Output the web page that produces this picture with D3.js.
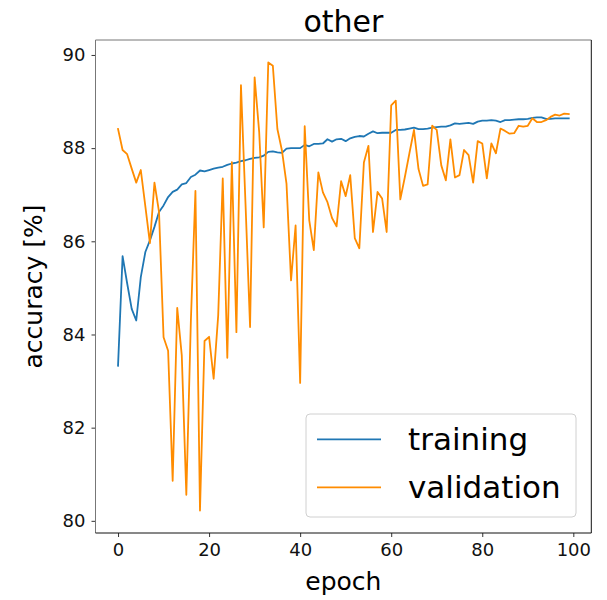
<!DOCTYPE html>
<html>
<head>
<meta charset="utf-8">
<script src="https://cdn.jsdelivr.net/npm/d3@7/dist/d3.min.js"></script>
<style>
  html, body { margin: 0; padding: 0; background: #fff; }
  svg { display: block; font-family: "DejaVu Sans", sans-serif; }
</style>
</head>
<body>
<svg id="chart" width="607" height="600"></svg>
<script>
// Per-epoch accuracy (%) for the "other" class
const training = [
  83.33, 85.68, 85.10, 84.55, 84.30, 85.23, 85.77, 86.02, 86.31, 86.63,
  86.77, 86.95, 87.06, 87.11, 87.22, 87.25, 87.38, 87.43, 87.52, 87.50,
  87.53, 87.56, 87.58, 87.60, 87.64, 87.67, 87.69, 87.72, 87.74, 87.77,
  87.79, 87.80, 87.84, 87.92, 87.93, 87.91, 87.90, 87.99, 88.00, 88.00,
  88.00, 88.07, 88.04, 88.09, 88.09, 88.10, 88.19, 88.14, 88.19, 88.20,
  88.15, 88.21, 88.24, 88.26, 88.25, 88.31, 88.36, 88.32, 88.33, 88.33,
  88.33, 88.39, 88.39, 88.40, 88.42, 88.44, 88.41, 88.41, 88.42, 88.44,
  88.45, 88.46, 88.46, 88.49, 88.53, 88.52, 88.53, 88.54, 88.52, 88.57,
  88.59, 88.59, 88.60, 88.59, 88.56, 88.60, 88.60, 88.61, 88.62, 88.62,
  88.63, 88.65, 88.66, 88.66, 88.63, 88.63, 88.64, 88.64, 88.64, 88.64
];
const validation = [
  88.41, 87.96, 87.87, 87.56, 87.26, 87.53, 86.75, 85.96, 87.26, 86.63,
  83.94, 83.65, 80.86, 84.57, 83.55, 80.56, 84.30, 87.08, 80.22, 83.86,
  83.95, 83.05, 84.41, 87.35, 83.50, 87.70, 84.05, 89.35, 86.80, 84.16,
  89.52, 88.35, 86.30, 89.84, 89.77, 88.41, 87.95, 87.24, 85.16, 86.34,
  82.96, 88.47, 86.45, 85.81, 87.48, 87.05, 86.84, 86.50, 86.32, 87.29,
  86.97, 87.42, 86.07, 85.85, 87.69, 88.05, 86.20, 87.06, 86.92, 86.20,
  88.92, 89.02, 86.90, 87.38, 87.89, 88.39, 87.55, 87.19, 87.22, 88.48,
  88.39, 87.63, 87.31, 88.19, 87.37, 87.42, 87.96, 87.85, 87.26, 88.15,
  88.10, 87.35, 88.10, 87.89, 88.42, 88.37, 88.31, 88.32, 88.48, 88.46,
  88.48, 88.64, 88.56, 88.56, 88.60, 88.67, 88.72, 88.70, 88.74, 88.73
];
const xTicks = [0, 20, 40, 60, 80, 100];
const yTicks = [80, 82, 84, 86, 88, 90];
const seriesNames = ["training", "validation"];
const seriesColors = ["#1f77b4", "#ff8c00"];
const titleText = "other";
const xLabel = "epoch";
const yLabel = "accuracy [%]";

const svg = d3.select("#chart");
const W = 607, H = 600;
const margin = { top: 40, right: 15.7, bottom: 67, left: 95.5 };
const iw = W - margin.left - margin.right;
const ih = H - margin.top - margin.bottom;

// 5% padding around the data on both axes
function padded(lo, hi) {
  const r = hi - lo;
  return [lo - 0.05 * r, hi + 0.05 * r];
}
const n = training.length;
const allY = training.concat(validation);
const x = d3.scaleLinear().domain(padded(0, n - 1)).range([0, iw]);
const y = d3.scaleLinear().domain(padded(d3.min(allY), d3.max(allY))).range([ih, 0]);

const g = svg.append("g").attr("transform", `translate(${margin.left},${margin.top})`);

// axes
const xAxis = d3.axisBottom(x).tickValues(xTicks).tickSize(4).tickPadding(6).tickFormat(d3.format("d"));
const yAxis = d3.axisLeft(y).tickValues(yTicks).tickSize(4).tickPadding(6).tickFormat(d3.format("d"));

const gx = g.append("g").attr("transform", `translate(0,${ih})`).call(xAxis);
const gy = g.append("g").call(yAxis);
[gx, gy].forEach(ax => {
  ax.select(".domain").remove();
  ax.selectAll(".tick line").attr("stroke", "#333").attr("stroke-width", 1);
  ax.selectAll(".tick text").attr("fill", "#111").style("font-size", "18px")
    .style("font-family", "'DejaVu Sans', sans-serif");
});

// lines
const line = d3.line().x((d, i) => x(i)).y(d => y(d));
g.append("clipPath").attr("id", "plotclip")
  .append("rect").attr("width", iw).attr("height", ih);
const series = [training, validation];
series.forEach((s, k) => {
  g.append("path")
    .datum(s)
    .attr("clip-path", "url(#plotclip)")
    .attr("fill", "none")
    .attr("stroke", seriesColors[k])
    .attr("stroke-width", 1.8)
    .attr("stroke-linejoin", "round")
    .attr("stroke-linecap", "square")
    .attr("d", line);
});

// frame
g.append("line").attr("x1", 0).attr("x2", iw).attr("y1", 0).attr("y2", 0).attr("stroke", "#777");
g.append("line").attr("x1", 0).attr("x2", 0).attr("y1", 0).attr("y2", ih).attr("stroke", "#777");
g.append("line").attr("x1", iw).attr("x2", iw).attr("y1", 0).attr("y2", ih).attr("stroke", "#111");
g.append("line").attr("x1", 0).attr("x2", iw).attr("y1", ih).attr("y2", ih).attr("stroke", "#111");

// title and axis labels
svg.append("text")
  .attr("x", margin.left + iw / 2).attr("y", 32)
  .attr("text-anchor", "middle")
  .style("font-size", "30px").attr("fill", "#000")
  .text(titleText);
svg.append("text")
  .attr("x", margin.left + iw / 2).attr("y", 590)
  .attr("text-anchor", "middle")
  .style("font-size", "25px").attr("fill", "#000")
  .text(xLabel);
svg.append("text")
  .attr("transform", `translate(42,${margin.top + ih / 2}) rotate(-90)`)
  .attr("text-anchor", "middle")
  .style("font-size", "25px").attr("fill", "#000")
  .text(yLabel);

// legend
const lg = svg.append("g");
lg.append("rect")
  .attr("x", 306).attr("y", 414).attr("width", 270).attr("height", 103)
  .attr("rx", 4).attr("ry", 4)
  .attr("fill", "#fff").attr("fill-opacity", 0.8)
  .attr("stroke", "#d0d0d0").attr("stroke-width", 1);
seriesNames.forEach((name, k) => {
  const ly = 439.3 + k * 48;
  lg.append("line")
    .attr("x1", 317).attr("x2", 381).attr("y1", ly).attr("y2", ly)
    .attr("stroke", seriesColors[k]).attr("stroke-width", 1.8);
  lg.append("text")
    .attr("x", 408).attr("y", ly + 10.8)
    .style("font-size", "31px").attr("fill", "#000")
    .text(name);
});
</script>
</body>
</html>
